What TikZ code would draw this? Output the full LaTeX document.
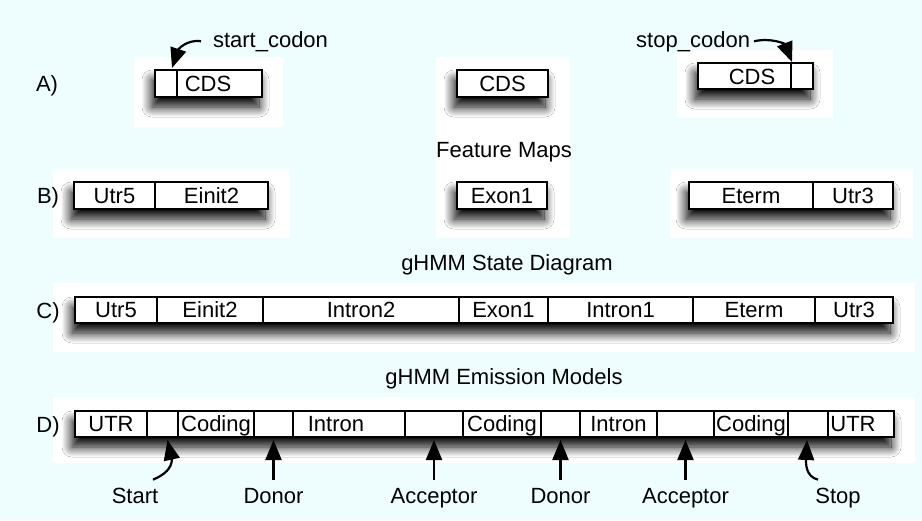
\documentclass[tikz,border=0pt]{standalone}
\usepackage{fontspec}
\setmainfont{Liberation Sans}
\usetikzlibrary{arrows.meta,shadows.blur}
\definecolor{sky}{RGB}{238,254,255}
\tikzset{
  seg/.style={draw=black, line width=1.5pt, fill=white, inner sep=0pt, outer sep=0pt,
    text height=17pt, text depth=2pt, font=\fontsize{22}{26}\selectfont},
  txt/.style={inner sep=0pt, outer sep=0pt, font=\fontsize{22}{26}\selectfont},
  pointer/.style={line width=2.2pt, draw=black, draw opacity=1, fill opacity=1,
    -{Triangle[length=20pt,width=16pt,fill=black]}},
  stripshade/.style={fill=white, blur shadow={shadow xshift=-3pt, shadow yshift=-10pt,
    shadow blur radius=10pt, shadow blur steps=14, shadow opacity=100}},
  panel/.style={fill=white, draw=none},
}
% one cell of a strip: name, left, right, top, bottom, text
\newcommand\cell[6]{%
  \node[seg, minimum width={(#3-#2)*1pt}, minimum height={(#5-#4)*1pt}]
    (#1) at ({(#2+#3)/2},{(#4+#5)/2}) {#6};}
\begin{document}
\begin{tikzpicture}[x=1pt,y=-1pt]
\useasboundingbox (0,0) rectangle (922,520);
\fill[sky] (0,0) rectangle (922,520);

% white panels behind the groups
\fill[panel] (134,57) rectangle (283,127);
\fill[panel] (436,57) rectangle (570,238);
\fill[panel] (677,50) rectangle (833,118);
\fill[panel] (53,169) rectangle (290,238);
\fill[panel] (670,169) rectangle (913,238);
\fill[panel] (53,283) rectangle (915,352);
\fill[panel] (53,397) rectangle (915,463);

% shadows under each strip
\begin{scope}
\path[stripshade] (155,70) rectangle (262,97);
\path[stripshade] (457,70) rectangle (548,97);
\path[stripshade] (698,63) rectangle (813,89);
\path[stripshade] (74,182) rectangle (268,209);
\path[stripshade] (457,182) rectangle (547,209);
\path[stripshade] (689,182) rectangle (893,209);
\path[stripshade] (75,297) rectangle (893,323);
\path[stripshade] (75,411) rectangle (894,437);
\end{scope}

% A) coding sequences
\node[txt, anchor=base] (rowA) at (47,91) {A)};
\cell{a1s}{155}{177}{70}{97}{}
\cell{a1c}{177}{262}{70}{97}{}
\node[txt, anchor=base] (a1t) at (208,91) {CDS};
\cell{a2c}{457}{548}{70}{97}{CDS}
\cell{a3c}{698}{791}{63}{89}{}
\cell{a3s}{791}{813}{63}{89}{}
\node[txt, anchor=base] (a3t) at (752,84) {CDS};
\node[txt, anchor=base west] (startc) at (213,47) {start\_codon};
\node[txt, anchor=base east] (stopc) at (750,47) {stop\_codon};
\draw[pointer] ([xshift=-12pt]startc.west) .. controls +(-15,-2) and +(6,-18) ..
  ([xshift=-5pt,yshift=2pt]a1s.north east);
\draw[pointer] ([xshift=4pt]stopc.east) .. controls +(17,-4) and +(-7,-18) ..
  ([xshift=1pt,yshift=1pt]a3s.north west);

\node[txt, anchor=base] (hfeat) at (504,157) {Feature Maps};

% B) feature maps
\node[txt, anchor=base] (rowB) at (48,203) {B)};
\cell{b1}{74}{155}{182}{209}{Utr5}
\cell{b2}{155}{268}{182}{209}{Einit2}
\cell{b3}{457}{547}{182}{209}{Exon1}
\cell{b4}{689}{813}{182}{209}{Eterm}
\cell{b5}{813}{893}{182}{209}{Utr3}

\node[txt, anchor=base] (hstate) at (507,270) {gHMM State Diagram};

% C) state diagram
\node[txt, anchor=base] (rowC) at (48,318) {C)};
\cell{c1}{75}{157}{297}{323}{Utr5}
\cell{c2}{157}{263}{297}{323}{Einit2}
\cell{c3}{263}{459}{297}{323}{Intron2}
\cell{c4}{459}{548}{297}{323}{Exon1}
\cell{c5}{548}{693}{297}{323}{Intron1}
\cell{c6}{693}{815}{297}{323}{Eterm}
\cell{c7}{815}{893}{297}{323}{Utr3}

\node[txt, anchor=base] (hemit) at (504,384) {gHMM Emission Models};

% D) emission models
\node[txt, anchor=base] (rowD) at (48,432) {D)};
\cell{d1}{75}{147}{411}{437}{UTR}
\cell{d2}{147}{178}{411}{437}{}
\cell{d3}{178}{254}{411}{437}{Coding}
\cell{d4}{254}{293}{411}{437}{}
\cell{d5}{293}{405}{411}{437}{}
\node[txt, anchor=base] (d5t) at (336,431) {Intron};
\cell{d6}{405}{463}{411}{437}{}
\cell{d7}{463}{541}{411}{437}{Coding}
\cell{d8}{541}{580}{411}{437}{}
\cell{d9}{580}{657}{411}{437}{Intron}
\cell{d10}{657}{714}{411}{437}{}
\cell{d11}{714}{788}{411}{437}{Coding}
\cell{d12}{788}{828}{411}{437}{}
\cell{d13}{828}{894}{411}{437}{}
\node[txt, anchor=base] (d13t) at (853,431) {UTR};

% signal labels
\node[txt, anchor=base] (lstart) at (135,503) {Start};
\node[txt, anchor=base] (ldon1) at (273.5,503) {Donor};
\node[txt, anchor=base] (lacc1) at (434,503) {Acceptor};
\node[txt, anchor=base] (ldon2) at (560.5,503) {Donor};
\node[txt, anchor=base] (lacc2) at (685.5,503) {Acceptor};
\node[txt, anchor=base] (lstop) at (838,503) {Stop};

\draw[pointer] ([xshift=18pt,yshift=8pt]lstart.north) .. controls +(22,-9) and +(4,18) ..
  ([xshift=5pt,yshift=-3pt]d2.south);
\draw[pointer] ([yshift=8pt]ldon1.north) -- ([yshift=-3pt]d4.south);
\draw[pointer] ([yshift=8pt]lacc1.north) -- ([yshift=-3pt]d6.south);
\draw[pointer] ([yshift=8pt]ldon2.north) -- ([yshift=-3pt]d8.south);
\draw[pointer] ([yshift=8pt]lacc2.north) -- ([yshift=-3pt]d10.south);
\draw[pointer] ([xshift=-20pt,yshift=8pt]lstop.north) .. controls +(-13,-3) and +(-1,22) ..
  ([xshift=-1pt,yshift=-3pt]d12.south);
\end{tikzpicture}
\end{document}
